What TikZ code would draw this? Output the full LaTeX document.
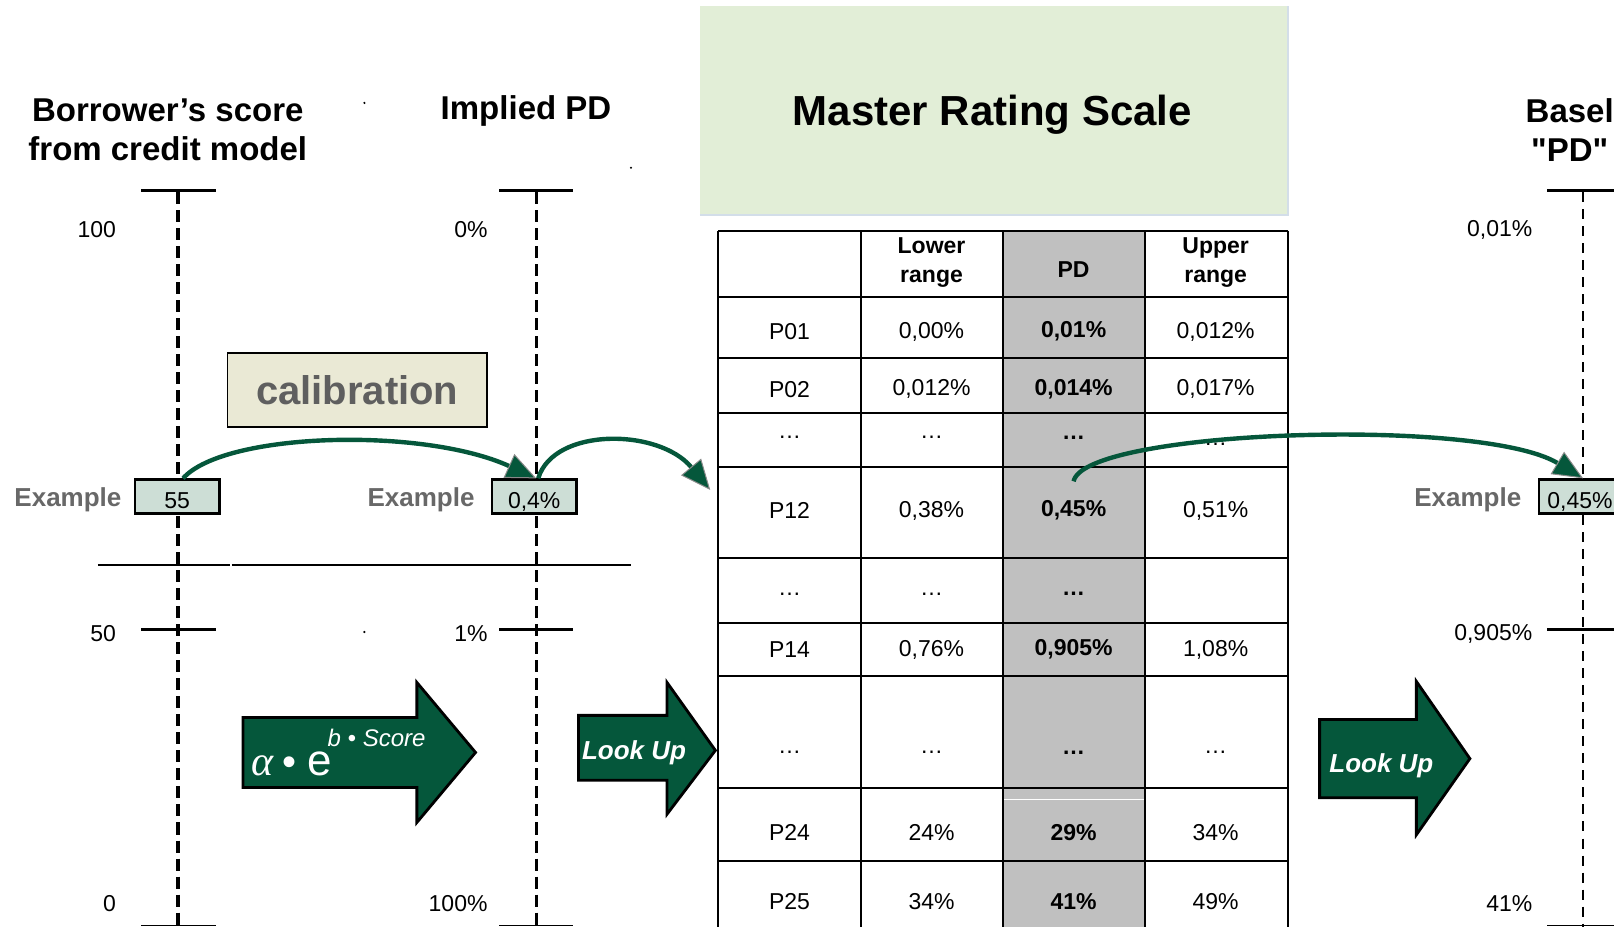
\documentclass[tikz,border=0pt]{standalone}
\usepackage{fontspec}
\setmainfont{Liberation Sans}
\newfontfamily\serfont{Liberation Serif}
\newcommand{\straightq}{\XeTeXglyph\XeTeXcharglyph"0022\relax}
\usetikzlibrary{arrows.meta}
\definecolor{agreen}{HTML}{05573B}
\definecolor{boxfill}{HTML}{CDDED6}
\definecolor{calfill}{HTML}{EAE9D5}
\definecolor{calgray}{HTML}{5F5F5F}
\definecolor{exgray}{HTML}{686868}
\definecolor{mrsfill}{HTML}{E2EED7}
\definecolor{mrsedge}{HTML}{D3DEE9}
\definecolor{pdgray}{HTML}{C0C0C0}
\definecolor{edgegray}{HTML}{8A8A8A}
\begin{document}
\begin{tikzpicture}[x=0.51467pt,y=-0.51467pt,
  title/.style={font=\fontsize{16.5}{19.5}\selectfont\bfseries, align=center, inner sep=0pt},
  axlab/.style={font=\fontsize{11.5}{13}\selectfont, anchor=east, inner sep=0pt},
  tickline/.style={line width=1.5pt},
  thinend/.style={line width=0.8pt},
  axisdash/.style={line width=1.6pt, dash pattern=on 6pt off 3pt},
  axisthin/.style={line width=0.8pt, dash pattern=on 5pt off 3.5pt},
  exlabel/.style={font=\fontsize{13}{15}\selectfont\bfseries, text=exgray, inner sep=0pt},
  exbox/.style={draw=black, line width=1.3pt, fill=boxfill, minimum width=42.2pt, minimum height=17pt, inner sep=0pt,
     text height=11.6pt, text depth=0pt, font=\fontsize{11.5}{13}\selectfont},
  cell/.style={font=\fontsize{11.5}{14.4}\selectfont, inner sep=0.5pt, align=center},
  cellb/.style={font=\fontsize{11.5}{14.4}\selectfont\bfseries, inner sep=0.5pt, align=center},
  gridline/.style={line width=1pt},
  blockarrow/.style={fill=agreen, draw=black, line width=1.4pt, line join=miter},
  arrowtext/.style={font=\fontsize{13}{15}\selectfont\bfseries\itshape, text=white, inner sep=0pt, anchor=base},
  curvearrow/.style={draw=agreen, line width=2.2pt, -{Triangle[length=15pt,width=13pt,color=edgegray,fill=agreen,line width=0.5pt]}}
]
\useasboundingbox (0,0) rectangle (1568,901);
\clip (0,0) rectangle (1568,901);

% titles
\node[title] (t1) at (163,126) {Borrower’s score\\from credit model};
\node[title] (t2) at (511,108) {Implied PD};
\node[title] (t3) at (1525,126) {Basel\\\straightq PD\straightq};

% stray dots
\fill (354,100) circle (0.6pt);
\fill (613,163) circle (0.6pt);
\fill (354,614) circle (0.6pt);

% axes
\draw[axisdash] (173,187) -- (173,901);
\draw[axisdash] (521,187) -- (521,901);
\draw[axisthin] (1538,187) -- (1538,901);
\draw[tickline] (137,185) -- (210,185);
\draw[tickline] (485,185) -- (557,185);
\draw[tickline] (1503,185) -- (1568,185);
\draw[tickline] (137,612) -- (210,612);
\draw[tickline] (485,612) -- (557,612);
\draw[tickline] (1503,612) -- (1568,612);
\draw[thinend] (137,899) -- (210,899);
\draw[thinend] (485,899) -- (557,899);
\draw[thinend] (1503,899) -- (1568,899);
\draw[line width=1pt] (95,549) -- (223,549);
\draw[line width=1pt] (225,549) -- (613,549);

% axis labels
\node[axlab] (l100) at (113,223) {100};
\node[axlab] (l50) at (113,616) {50};
\node[axlab] (l0) at (113,878) {0};
\node[axlab] (p0) at (474,223) {0\%};
\node[axlab] (p1) at (474,616) {1\%};
\node[axlab] (p100) at (474,878) {100\%};
\node[axlab] (b1) at (1489,223) {0,01\%};
\node[axlab] (b2) at (1489,616) {0,905\%};
\node[axlab] (b3) at (1489,878) {41\%};

% calibration
\node[draw=black, line width=0.8pt, fill=calfill, minimum width=129.7pt, minimum height=37pt, inner sep=0pt,
      font=\fontsize{20}{24}\selectfont\bfseries, text=calgray] (cal) at (347,379) {calibration};

% examples
\node[exlabel] (e1) at (66,486) {Example};
\node[exlabel] (e2) at (409,486) {Example};
\node[exlabel] (e3) at (1426,486) {Example};
\node[exbox] (ex55) at (172,482.5) {55};
\node[exbox] (ex04) at (519,482.5) {0,4\%};
\node[exbox, minimum width=41.2pt] (ex045) at (1535,482.5) {0,45\%};

% Master rating scale header
\fill[mrsfill] (680,6) rectangle (1251,209);
\draw[mrsedge, line width=1pt] (680,209) -- (1251,209) -- (1251,6);
\node[font=\fontsize{21}{25}\selectfont\bfseries] (mrs) at (964,111) {Master Rating Scale};

% table
\fill[pdgray] (974,224) rectangle (1112,901);
\draw[white, line width=0.6pt] (975,777) -- (1111,777);
\foreach \yy in {224,289,348,401,454,542,605,657,766,836} {
  \draw[gridline] (698,\yy) -- (1251,\yy);
}
\foreach \xx in {698,836,974,1112,1251} {
  \draw[gridline] (\xx,224) -- (\xx,901);
}
% header
\node[cellb] (h2) at (905,255) {Lower\\range};
\node[cellb] (h3) at (1043,262) {PD};
\node[cellb] (h4) at (1181,255) {Upper\\range};
% rows
\node[cell] (r1a) at (767,322) {P01};
\node[cell] (r1b) at (905,322) {0,00\%};
\node[cellb] (r1c) at (1043,322) {0,01\%};
\node[cell] (r1d) at (1181,322) {0,012\%};
\node[cell] (r2a) at (767,378) {P02};
\node[cell] (r2b) at (905,378) {0,012\%};
\node[cellb] (r2c) at (1043,378) {0,014\%};
\node[cell] (r2d) at (1181,378) {0,017\%};
\node[cell] (r3a) at (767,425) {…};
\node[cell] (r3b) at (905,425) {…};
\node[cellb] (r3c) at (1043,425) {…};
\node[cell] (r3d) at (1181,432) {…};
\node[cell] (r4a) at (767,496) {P12};
\node[cell] (r4b) at (905,496) {0,38\%};
\node[cellb] (c12pd) at (1043,496) {0,45\%};
\node[cell] (r4d) at (1181,496) {0,51\%};
\node[cell] (r5a) at (767,577) {…};
\node[cell] (r5b) at (905,577) {…};
\node[cellb] (r5c) at (1043,577) {…};
\node[cell] (r6a) at (767,631) {P14};
\node[cell] (r6b) at (905,631) {0,76\%};
\node[cellb] (r6c) at (1043,631) {0,905\%};
\node[cell] (r6d) at (1181,631) {1,08\%};
\node[cell] (r7a) at (767,731) {…};
\node[cell] (r7b) at (905,731) {…};
\node[cellb] (r7c) at (1043,731) {…};
\node[cell] (r7d) at (1181,731) {…};
\node[cell] (r8a) at (767,809) {P24};
\node[cell] (r8b) at (905,809) {24\%};
\node[cellb] (r8c) at (1043,809) {29\%};
\node[cell] (r8d) at (1181,809) {34\%};
\node[cell] (r9a) at (767,876) {P25};
\node[cell] (r9b) at (905,876) {34\%};
\node[cellb] (r9c) at (1043,876) {41\%};
\node[cell] (r9d) at (1181,876) {49\%};

% block arrows
\draw[blockarrow] (236,697) -- (405,697) -- (405,663) -- (462,731) -- (405,799) -- (405,765) -- (236,765) -- cycle;
\draw[blockarrow] (562,695) -- (648,695) -- (648,663) -- (695,729) -- (648,791) -- (648,758) -- (562,758) -- cycle;
\draw[blockarrow] (1282,699) -- (1376,699) -- (1376,662) -- (1428,737) -- (1376,811) -- (1376,775) -- (1282,775) -- cycle;

% formula
\node[anchor=base west, inner sep=0pt, text=white, font=\fontsize{21}{24}\selectfont\serfont\itshape] (fa) at (244,753) {α};
\node[inner sep=0pt, text=white, font=\fontsize{20}{24}\selectfont] (fb) at (281,744) {•};
\node[anchor=base west, inner sep=0pt, text=white, font=\fontsize{22}{24}\selectfont] (fe) at (298,753) {e};
\node[anchor=base west, inner sep=0pt, text=white, font=\fontsize{12}{14}\selectfont\itshape] (fs) at (318,725) {b • Score};

\node[arrowtext] (lu1) at (616,738) {Look Up};
\node[arrowtext] (lu2) at (1342,750) {Look Up};

% curved connectors
\coordinate (lk) at (690,476);
\draw[curvearrow] ([xshift=3pt]ex55.north) .. controls +(40,-45) and +(-110,-50) .. ([xshift=1pt]ex04.north);
\draw[curvearrow] ([xshift=2pt]ex04.north) .. controls +(15,-50) and +(-50,-60) .. (lk);
\draw[curvearrow] ([yshift=9pt]c12pd.north) .. controls +(10,-50) and +(-100,-60) .. ([xshift=1.5pt]ex045.north);
\end{tikzpicture}
\end{document}
